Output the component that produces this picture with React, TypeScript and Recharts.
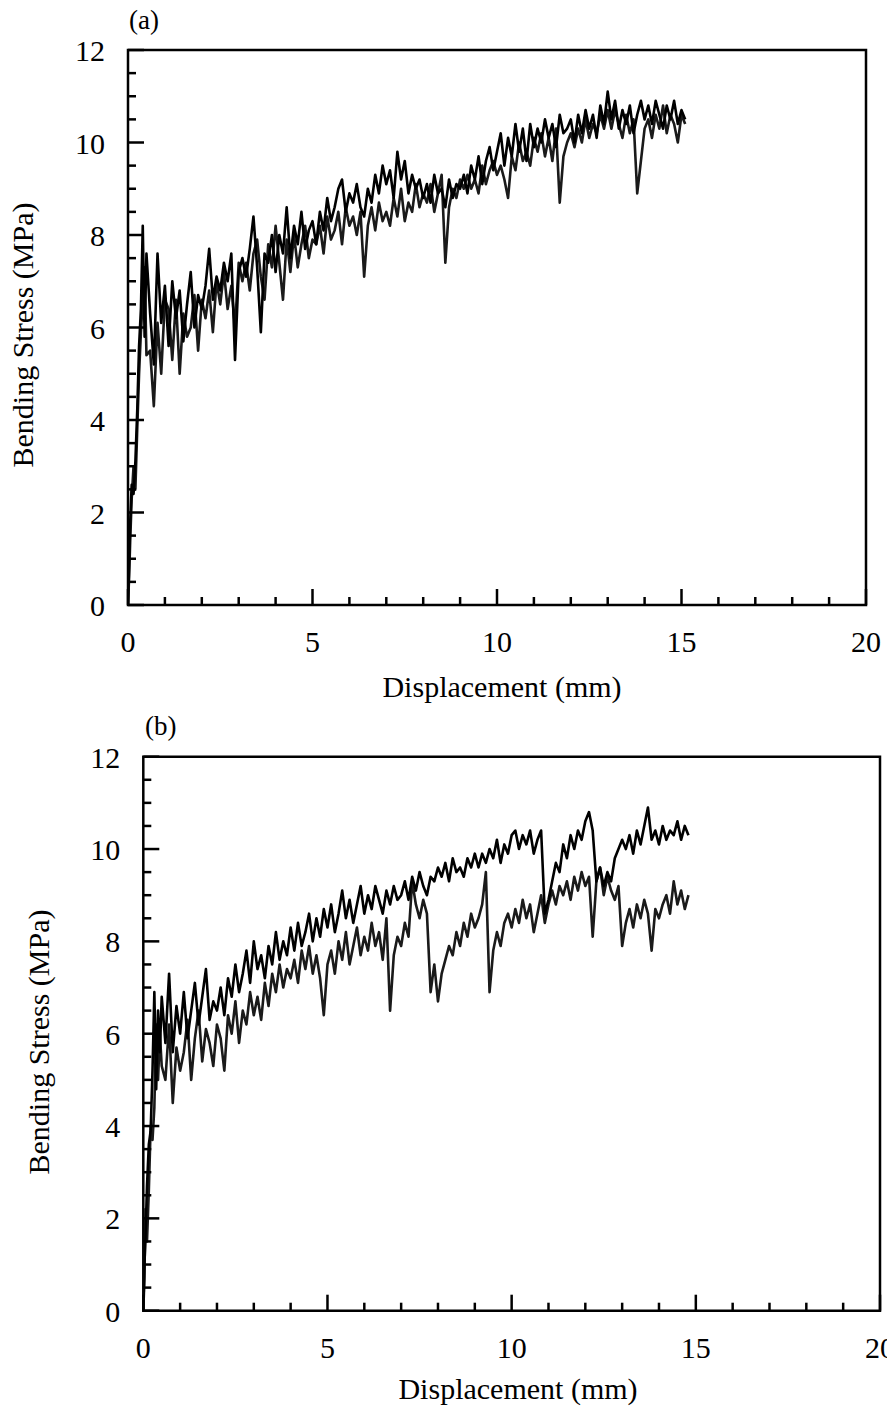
import React from "react";
import { LineChart, Line, XAxis, YAxis, ReferenceArea } from "recharts";

// ---------- data ----------
const yTicks = [0, 0.5, 1, 1.5, 2, 2.5, 3, 3.5, 4, 4.5, 5, 5.5, 6, 6.5, 7, 7.5, 8, 8.5, 9, 9.5, 10, 10.5, 11, 11.5, 12];
const xTicks = [0, 1, 2, 3, 4, 5, 6, 7, 8, 9, 10, 11, 12, 13, 14, 15, 16, 17, 18, 19, 20];

const dispA = [
  0, 0.03, 0.06, 0.1, 0.15, 0.2, 0.25, 0.3, 0.35, 0.4, 0.45, 0.5,
  0.6, 0.7, 0.8, 0.9, 1.0,
  1.1, 1.2, 1.3, 1.4, 1.5, 1.6, 1.7, 1.8, 1.9, 2.0,
  2.1, 2.2, 2.3, 2.4, 2.5, 2.6, 2.7, 2.8, 2.9, 3.0,
  3.1, 3.2, 3.3, 3.4, 3.5, 3.6, 3.7, 3.8, 3.9, 4.0,
  4.1, 4.2, 4.3, 4.4, 4.5, 4.6, 4.7, 4.8, 4.9, 5.0,
  5.1, 5.2, 5.3, 5.4, 5.5, 5.6, 5.7, 5.8, 5.9, 6.0,
  6.1, 6.2, 6.3, 6.4, 6.5, 6.6, 6.7, 6.8, 6.9, 7.0,
  7.1, 7.2, 7.3, 7.4, 7.5, 7.6, 7.7, 7.8, 7.9, 8.0,
  8.1, 8.2, 8.3, 8.4, 8.5, 8.6, 8.7, 8.8, 8.9, 9.0,
  9.1, 9.2, 9.3, 9.4, 9.5, 9.6, 9.7, 9.8, 9.9, 10.0,
  10.1, 10.2, 10.3, 10.4, 10.5, 10.6, 10.7, 10.8, 10.9, 11.0,
  11.1, 11.2, 11.3, 11.4, 11.5, 11.6, 11.7, 11.8, 11.9, 12.0,
  12.1, 12.2, 12.3, 12.4, 12.5, 12.6, 12.7, 12.8, 12.9, 13.0,
  13.1, 13.2, 13.3, 13.4, 13.5, 13.6, 13.7, 13.8, 13.9, 14.0,
  14.1, 14.2, 14.3, 14.4, 14.5, 14.6, 14.7, 14.8, 14.9, 15.0,
  15.1,
];

const stressA1 = [
  0, 0.9, 1.8, 2.6, 2.4, 3.1, 4.2, 5.6, 6.4, 8.2, 5.8, 7.6,
  6.3, 5.2, 7.6, 6.1, 6.9,
  5.6, 7.0, 6.2, 6.8, 5.7, 6.5, 7.2, 6.0, 6.7, 6.4,
  6.9, 7.7, 6.6, 7.1, 6.8, 7.4, 7.0, 7.6, 5.3, 7.2,
  7.5, 7.1, 7.7, 8.4, 7.3, 5.9, 7.6, 7.4, 8.0, 7.2,
  8.0, 7.6, 8.6, 7.5, 8.2, 7.8, 8.5, 7.7, 8.1, 8.3,
  7.8, 8.5, 8.1, 8.8, 8.3, 8.6, 9.0, 9.2, 8.5, 8.9,
  8.7, 9.1, 8.6, 8.4, 9.0, 8.7, 9.3, 8.9, 9.5, 9.1,
  9.4, 8.8, 9.8, 9.2, 9.6, 8.9, 9.3, 9.0, 9.2, 8.8,
  9.1, 8.7, 9.3, 8.9, 9.0, 8.6, 9.2, 8.8, 9.1, 9.0,
  9.3, 8.9, 9.5, 9.2, 9.7, 9.1, 9.6, 9.9, 9.4, 9.8,
  10.2, 9.5, 10.1, 9.7, 10.4, 9.8, 10.3, 9.6, 10.4, 9.9,
  10.3, 10.0, 10.5, 10.1, 10.4, 9.9, 10.6, 10.2, 10.3, 10.5,
  10.0, 10.6, 10.2, 10.7, 10.3, 10.6, 10.1, 10.8, 10.4, 11.1,
  10.5, 10.9, 10.3, 10.7, 10.4, 10.8, 10.2, 10.6, 10.9, 10.5,
  10.8, 10.4, 10.9, 10.6, 10.3, 10.8, 10.5, 10.9, 10.4, 10.7,
  10.5,
];

const stressA2 = [
  0, 0.6, 1.4, 2.3, 3.0, 2.5, 3.8, 5.0, 5.9, 6.6, 7.3, 5.4,
  5.5, 4.3, 6.1, 5.0, 6.6,
  6.4, 5.3, 6.6, 5.0, 6.3, 5.8, 6.0, 6.7, 5.5, 6.6,
  6.2, 6.8, 5.9, 7.0, 6.5, 7.2, 6.4, 6.9, 6.0, 7.4,
  7.0, 7.4, 6.8, 7.6, 7.9, 7.1, 6.6, 7.8, 7.3, 8.2,
  7.4, 6.6, 7.9, 7.2, 8.0, 7.3, 7.8, 8.2, 7.5, 7.9,
  7.8, 8.2, 7.6, 8.4, 7.9, 8.1, 8.5, 7.8, 8.6, 8.2,
  8.4, 8.0, 8.5, 7.1, 8.2, 8.6, 8.1, 8.7, 8.3, 8.5,
  8.2, 8.8, 8.4, 9.0, 8.3, 8.7, 8.5, 9.1, 8.6, 8.9,
  8.7, 9.1, 8.5, 8.9, 9.3, 7.4, 8.6, 9.0, 8.8, 9.2,
  9.0, 9.3, 9.0, 9.2, 8.9, 9.5, 9.1, 9.4, 9.6, 9.3,
  9.5, 9.2, 8.8, 9.7, 9.4, 10.0, 9.6, 9.8, 9.5, 10.1,
  9.8, 10.2, 9.7, 10.1, 9.6, 10.3, 8.7, 9.7, 10.0, 10.2,
  9.9, 10.3, 10.0, 10.5, 10.1, 10.4, 10.2, 10.6, 10.3, 10.7,
  10.3, 10.7, 10.4, 10.1, 10.6, 10.2, 10.5, 8.9, 9.6, 10.3,
  10.5, 10.1, 10.6, 10.3, 10.8, 10.2, 10.6, 10.4, 10.0, 10.6,
  10.4,
];

const dispB = [
  0, 0.03, 0.06, 0.1, 0.15, 0.2, 0.25, 0.3, 0.35, 0.4, 0.45, 0.5,
  0.6, 0.7, 0.8, 0.9, 1.0,
  1.1, 1.2, 1.3, 1.4, 1.5, 1.6, 1.7, 1.8, 1.9, 2.0,
  2.1, 2.2, 2.3, 2.4, 2.5, 2.6, 2.7, 2.8, 2.9, 3.0,
  3.1, 3.2, 3.3, 3.4, 3.5, 3.6, 3.7, 3.8, 3.9, 4.0,
  4.1, 4.2, 4.3, 4.4, 4.5, 4.6, 4.7, 4.8, 4.9, 5.0,
  5.1, 5.2, 5.3, 5.4, 5.5, 5.6, 5.7, 5.8, 5.9, 6.0,
  6.1, 6.2, 6.3, 6.4, 6.5, 6.6, 6.7, 6.8, 6.9, 7.0,
  7.1, 7.2, 7.3, 7.4, 7.5, 7.6, 7.7, 7.8, 7.9, 8.0,
  8.1, 8.2, 8.3, 8.4, 8.5, 8.6, 8.7, 8.8, 8.9, 9.0,
  9.1, 9.2, 9.3, 9.4, 9.5, 9.6, 9.7, 9.8, 9.9, 10.0,
  10.1, 10.2, 10.3, 10.4, 10.5, 10.6, 10.7, 10.8, 10.9, 11.0,
  11.1, 11.2, 11.3, 11.4, 11.5, 11.6, 11.7, 11.8, 11.9, 12.0,
  12.1, 12.2, 12.3, 12.4, 12.5, 12.6, 12.7, 12.8, 12.9, 13.0,
  13.1, 13.2, 13.3, 13.4, 13.5, 13.6, 13.7, 13.8, 13.9, 14.0,
  14.1, 14.2, 14.3, 14.4, 14.5, 14.6, 14.7, 14.8,
];

const stressB1 = [
  0, 1.0, 1.6, 2.7, 3.6, 3.9, 5.2, 6.9, 4.8, 6.5, 5.6, 6.8,
  5.8, 7.3, 5.6, 6.6, 6.0,
  6.9, 5.9, 6.5, 7.1, 6.2, 6.8, 7.4, 6.3, 6.7, 6.5,
  7.0, 6.4, 7.2, 6.8, 7.5, 6.9, 7.3, 7.8, 7.1, 8.0,
  7.4, 7.7, 7.2, 7.9, 7.5, 8.2, 7.6, 8.0, 7.7, 8.3,
  7.8, 8.4, 7.9, 8.2, 8.6, 8.0, 8.5, 8.1, 8.7, 8.3,
  8.8, 8.2, 8.6, 9.1, 8.5, 8.9, 8.4, 8.8, 9.2, 8.6,
  9.0, 8.7, 9.2, 8.9, 8.6, 9.1, 8.8, 9.2, 8.9, 9.0,
  9.3, 8.9, 9.4, 9.1, 9.5, 9.2, 9.0, 9.4, 9.3, 9.6,
  9.4, 9.7, 9.3, 9.8, 9.5, 9.6, 9.4, 9.8, 9.6, 9.9,
  9.6, 9.9, 9.7, 10.0, 9.8, 10.2, 9.7, 10.1, 9.9, 10.3,
  10.4, 10.0, 10.3, 10.1, 10.4, 9.9, 10.2, 10.4, 8.6, 8.9,
  9.3, 9.7, 9.5, 10.1, 9.8, 10.3, 10.0, 10.4, 10.2, 10.6,
  10.8, 10.4, 9.3, 9.6, 9.2, 9.5, 9.3, 9.8, 10.0, 10.2,
  10.0, 10.3, 9.9, 10.4, 10.1, 10.5, 10.9, 10.2, 10.4, 10.1,
  10.5, 10.2, 10.4, 10.3, 10.6, 10.2, 10.5, 10.3,
];

const stressB2 = [
  0, 0.7, 2.2, 1.5, 2.6, 4.0, 3.7, 4.4, 6.2, 5.0, 6.0, 5.3,
  5.0, 6.2, 4.5, 5.7, 5.2,
  5.6, 6.3, 5.0, 5.9, 6.5, 5.4, 6.1, 5.8, 5.3, 6.2,
  5.9, 5.2, 6.4, 6.0, 6.7, 5.8, 6.5, 6.2, 6.9, 6.4,
  6.8, 6.3, 7.1, 6.6, 7.3, 6.9, 7.5, 7.0, 7.4, 7.2,
  7.6, 7.1, 7.8, 7.4, 7.9, 7.3, 7.7, 7.2, 6.4, 7.5,
  7.8, 7.3, 8.0, 7.6, 8.2, 7.5, 7.9, 8.3, 7.7, 8.1,
  7.8, 8.4, 7.9, 8.2, 7.6, 8.5, 6.5, 7.7, 8.1, 7.9,
  8.4, 8.1, 9.3, 8.8, 8.5, 8.9, 8.6, 6.9, 7.5, 6.7,
  7.3, 7.6, 7.9, 7.7, 8.2, 7.9, 8.4, 8.1, 8.6, 8.3,
  8.5, 8.8, 9.5, 6.9, 7.8, 8.2, 7.9, 8.4, 8.6, 8.3,
  8.7, 8.4, 8.9, 8.5, 8.8, 8.2, 8.6, 9.0, 8.4, 8.8,
  9.1, 8.8, 9.2, 9.0, 9.3, 8.9, 9.4, 9.1, 9.5, 9.2,
  9.4, 8.1, 9.3, 9.6, 9.0, 9.4, 9.1, 8.9, 9.2, 7.9,
  8.4, 8.7, 8.3, 8.8, 8.5, 8.9, 8.6, 7.8, 8.7, 8.5,
  8.8, 9.0, 8.6, 9.3, 8.8, 9.1, 8.7, 9.0,
];

// ---------- layout ----------
const FONT = "'Liberation Serif', 'Times New Roman', Times, serif";
const TICK_FS = 30;
const TITLE_FS = 30;

type Panel = {
  top: number;
  height: number;
  left: number;
  right: number;
  plotTop: number;
  plotBottom: number;
};

const panelA: Panel = { top: 0, height: 705, left: 128, right: 866, plotTop: 50, plotBottom: 605 };
const panelB: Panel = { top: 705, height: 705, left: 143.3, right: 880, plotTop: 756.7, plotBottom: 1310.7 };

const makeYTick = (p: Panel) => (props: any) => {
  const v = props.payload.value;
  const y = props.payload.coordinate ?? props.y;
  const major = Math.abs(v % 2) < 1e-9;
  return (
    <g>
      <line x1={p.left} x2={p.left + (major ? 16 : 8)} y1={y} y2={y} stroke="#000" strokeWidth={2.5} />
      {major && (
        <text x={p.left - 23} y={y + 11} textAnchor="end" fontFamily={FONT} fontSize={TICK_FS} fill="#000">
          {v}
        </text>
      )}
    </g>
  );
};

const makeXTick = (p: Panel) => (props: any) => {
  const v = props.payload.value;
  const x = props.payload.coordinate ?? props.x;
  const major = v % 5 === 0;
  const bottom = p.plotBottom - p.top;
  return (
    <g>
      <line x1={x} x2={x} y1={bottom} y2={bottom - (major ? 16 : 8)} stroke="#000" strokeWidth={2.5} />
      {major && (
        <text x={x} y={bottom + 47} textAnchor="middle" fontFamily={FONT} fontSize={TICK_FS} fill="#000">
          {v}
        </text>
      )}
    </g>
  );
};

function PanelChart({ p, disp, s1, s2 }: { p: Panel; disp: number[]; s1: number[]; s2: number[] }) {
  const rows = disp.map((x, i) => ({ x, s1: s1[i], s2: s2[i] }));
  const margin = {
    top: p.plotTop - p.top,
    left: p.left - 1,
    right: 887 - p.right,
    bottom: p.top + p.height - p.plotBottom - 1,
  };
  return (
    <div style={{ position: "absolute", left: 0, top: p.top, width: 887, height: p.height }}>
      <LineChart width={887} height={p.height} data={rows} margin={margin}>
        <XAxis
          type="number"
          dataKey="x"
          domain={[0, 20]}
          ticks={xTicks}
          interval={0}
          height={1}
          axisLine={false}
          tickLine={false}
          tick={makeXTick(p)}
          allowDataOverflow
        />
        <YAxis
          type="number"
          domain={[0, 12]}
          ticks={yTicks}
          interval={0}
          width={1}
          axisLine={false}
          tickLine={false}
          tick={makeYTick(p)}
          allowDataOverflow
        />
        <Line type="linear" dataKey="s2" stroke="#1a1a1a" strokeWidth={2.6} dot={false} isAnimationActive={false} strokeLinejoin="round" />
        <Line type="linear" dataKey="s1" stroke="#000" strokeWidth={2.6} dot={false} isAnimationActive={false} strokeLinejoin="round" />
        <ReferenceArea x1={0} x2={20} y1={0} y2={12} fill="none" fillOpacity={0} stroke="#000" strokeWidth={2.5} />
      </LineChart>
    </div>
  );
}

export default function App() {
  return (
    <div style={{ position: "absolute", left: 0, top: 0, width: 887, height: 1410, background: "#fff", overflow: "hidden" }}>
      <PanelChart p={panelA} disp={dispA} s1={stressA1} s2={stressA2} />
      <PanelChart p={panelB} disp={dispB} s1={stressB1} s2={stressB2} />
      <svg
        width={887}
        height={1410}
        style={{ position: "absolute", left: 0, top: 0, pointerEvents: "none" }}
      >
        <g fontFamily={FONT} fill="#000">
          <text x={129} y={29} fontSize={27}>(a)</text>
          <text x={145} y={735} fontSize={27}>(b)</text>
          <text x={502} y={697} fontSize={TITLE_FS} textAnchor="middle">Displacement (mm)</text>
          <text x={518} y={1399} fontSize={TITLE_FS} textAnchor="middle">Displacement (mm)</text>
          <text
            x={0}
            y={0}
            fontSize={TITLE_FS}
            textAnchor="middle"
            transform={`translate(33, 335) rotate(-90)`}
          >
            Bending Stress (MPa)
          </text>
          <text
            x={0}
            y={0}
            fontSize={TITLE_FS}
            textAnchor="middle"
            transform={`translate(49, 1042) rotate(-90)`}
          >
            Bending Stress (MPa)
          </text>
        </g>
      </svg>
    </div>
  );
}
